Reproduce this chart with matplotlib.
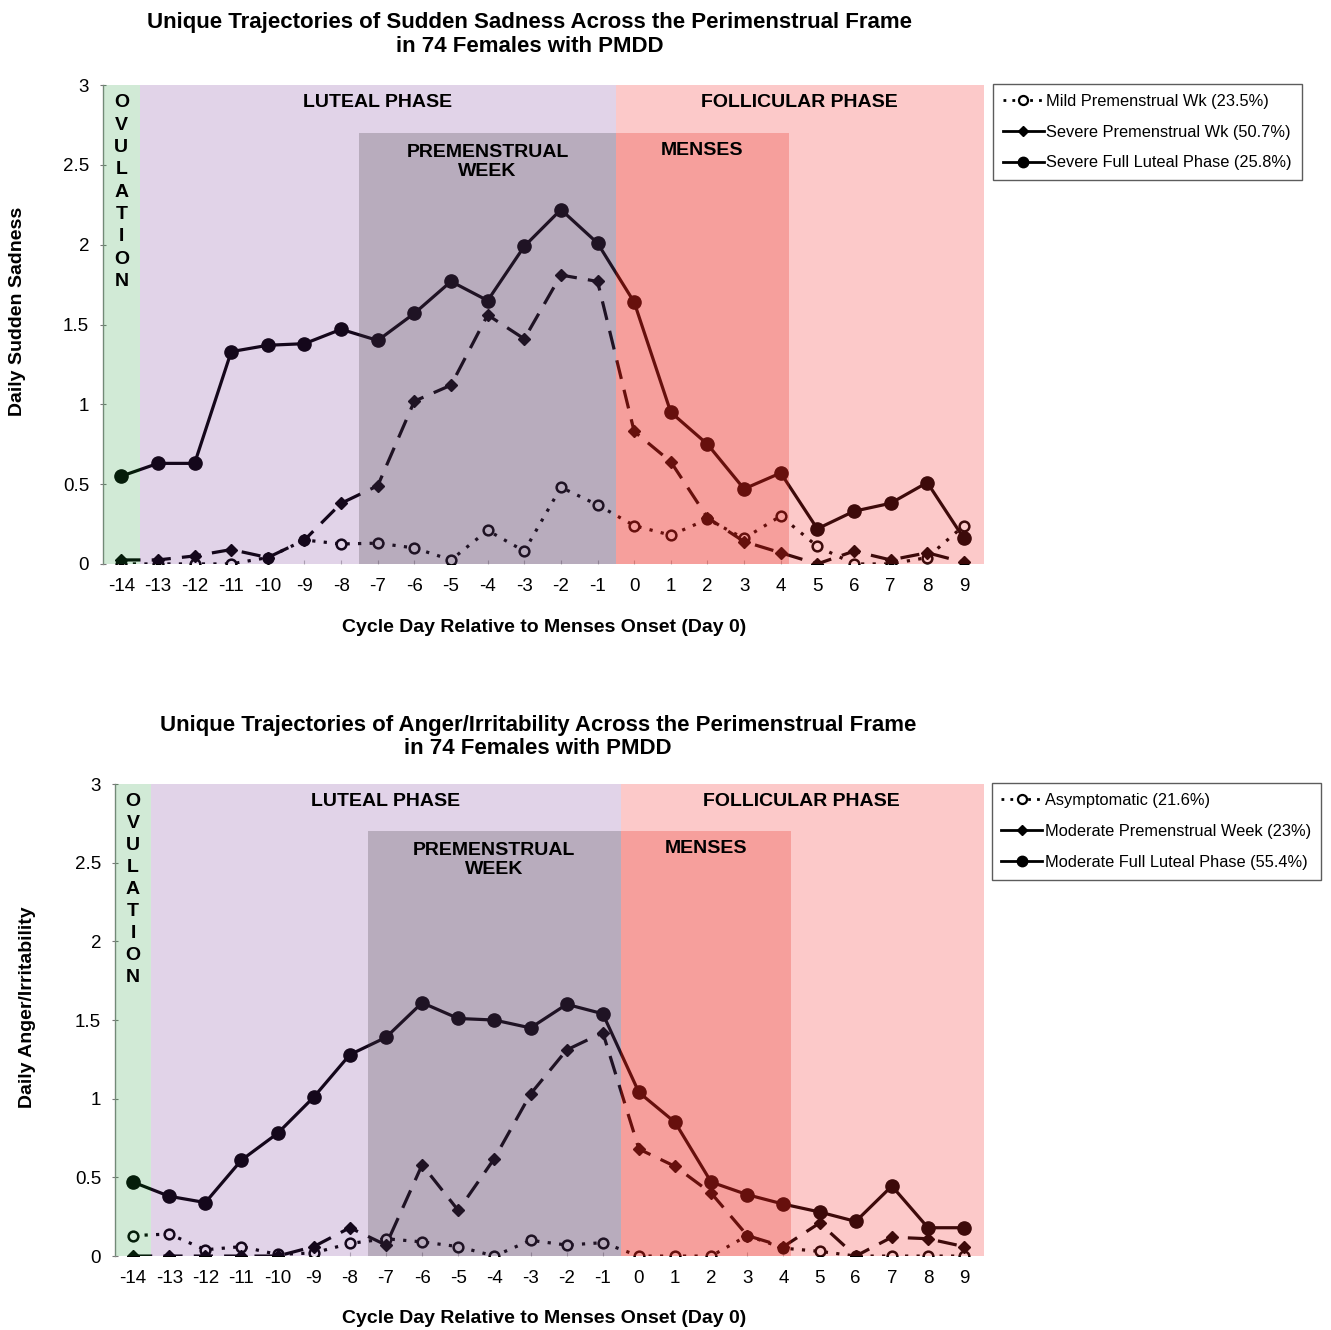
import matplotlib
matplotlib.use("Agg")
import matplotlib.pyplot as plt
from matplotlib.lines import Line2D

plt.rcParams['font.family'] = ['Liberation Sans', 'DejaVu Sans']

days = list(range(-14, 10))
day_labels = [str(d) for d in days]

# Panel 1: Sudden Sadness
sad_labels = ["Mild Premenstrual Wk (23.5%)",
              "Severe Premenstrual Wk (50.7%)",
              "Severe Full Luteal Phase (25.8%)"]
sad_mild = [0.0, 0.0, 0.0, 0.0, 0.04, 0.15, 0.125, 0.13, 0.10, 0.025, 0.21, 0.08,
            0.48, 0.37, 0.24, 0.18, 0.28, 0.16, 0.30, 0.11, 0.0, 0.0, 0.04, 0.24]
sad_severe_pm = [0.025, 0.025, 0.05, 0.09, 0.04, 0.15, 0.38, 0.49, 1.02, 1.12, 1.56, 1.41,
                 1.81, 1.77, 0.83, 0.64, 0.29, 0.14, 0.07, 0.0, 0.08, 0.025, 0.07, 0.01]
sad_full_luteal = [0.55, 0.63, 0.63, 1.33, 1.37, 1.38, 1.47, 1.40, 1.57, 1.77, 1.65, 1.99,
                   2.22, 2.01, 1.64, 0.95, 0.75, 0.47, 0.57, 0.22, 0.33, 0.38, 0.51, 0.16]

# Panel 2: Anger/Irritability
ang_labels = ["Asymptomatic (21.6%)",
              "Moderate Premenstrual Week (23%)",
              "Moderate Full Luteal Phase (55.4%)"]
ang_asym = [0.13, 0.14, 0.04, 0.06, 0.01, 0.02, 0.08, 0.11, 0.09, 0.06, 0.0, 0.10,
            0.07, 0.085, 0.0, 0.0, 0.0, 0.13, 0.05, 0.03, 0.0, 0.0, 0.0, 0.0]
ang_mod_pm = [0.0, 0.0, 0.0, 0.0, 0.0, 0.06, 0.18, 0.07, 0.58, 0.29, 0.62, 1.03,
              1.31, 1.42, 0.68, 0.57, 0.40, 0.13, 0.06, 0.21, 0.0, 0.12, 0.11, 0.06]
ang_full_luteal = [0.47, 0.38, 0.34, 0.61, 0.78, 1.01, 1.28, 1.39, 1.61, 1.51, 1.50, 1.45,
                   1.60, 1.54, 1.04, 0.85, 0.47, 0.39, 0.33, 0.28, 0.22, 0.445, 0.18, 0.18]

fig = plt.figure(figsize=(13.31, 13.30), dpi=100)


def panel(rect, title_xy, title, ylabel, ylabel_x, xlabel_y, series, labels, leg_anchor):
    ax = fig.add_axes(rect)
    mild, pm, full = series
    ax.plot(days, mild, linestyle=(0, (1, 2.6)), color='black', lw=2.3,
            marker='o', markersize=7, markerfacecolor='white',
            markeredgecolor='black', markeredgewidth=1.8, zorder=3)
    ax.plot(days, pm, linestyle=(0, (6, 3.5)), color='black', lw=2.3,
            marker='D', markersize=6.5, markerfacecolor='black',
            markeredgecolor='black', zorder=3)
    ax.plot(days, full, linestyle='-', color='black', lw=2.3,
            marker='o', markersize=9.5, markerfacecolor='black',
            markeredgecolor='black', zorder=3)

    # shaded phases drawn on top (translucent) so lines take on tint
    ax.axvspan(-14.5, -13.5, ymin=0, ymax=1, color=(0.10, 0.59, 0.20), alpha=0.2, lw=0, zorder=4)
    ax.axvspan(-13.5, -0.5, ymin=0, ymax=1, color=(0.41, 0.14, 0.55), alpha=0.2, lw=0, zorder=4)
    ax.axvspan(-7.5, -0.5, ymin=0, ymax=0.9, color=(0.25, 0.22, 0.25), alpha=0.25, lw=0, zorder=4)
    ax.axvspan(-0.5, 9.55, ymin=0, ymax=1, color=(0.97, 0.16, 0.16), alpha=0.25, lw=0, zorder=4)
    ax.axvspan(-0.5, 4.22, ymin=0, ymax=0.9, color=(0.91, 0.14, 0.09), alpha=0.25, lw=0, zorder=4)

    tk = dict(fontsize=14, fontweight='bold', ha='center', va='center', zorder=6)
    ax.text(-7, 2.89, "LUTEAL PHASE", **tk)
    ax.text(4.5, 2.89, "FOLLICULAR PHASE", **tk)
    ax.text(-4, 2.52, "PREMENSTRUAL\nWEEK", linespacing=1.15, **tk)
    ax.text(1.85, 2.59, "MENSES", **tk)
    for i, ch in enumerate("OVULATION"):
        ax.text(-14, 2.89 - i * 0.14, ch, **tk)

    ax.set_xlim(-14.5, 9.55)
    ax.set_ylim(0, 3)
    ax.set_xticks(days)
    ax.set_xticklabels(day_labels, fontsize=13.5)
    ax.set_yticks([0, 0.5, 1, 1.5, 2, 2.5, 3])
    ax.set_yticklabels(['0', '0.5', '1', '1.5', '2', '2.5', '3'], fontsize=13.5)
    ax.tick_params(axis='x', length=3, direction='in', color='#bbbbbb', pad=10)
    ax.tick_params(axis='y', length=4, direction='inout', color='#777777', pad=8)
    for s in ['top', 'right', 'bottom']:
        ax.spines[s].set_visible(False)
    ax.spines['left'].set_color('#888888')
    ax.spines['left'].set_linewidth(1.0)

    fig.text(title_xy[0], title_xy[1], title, fontsize=16, fontweight='bold',
             ha='center', va='center', linespacing=1.15)
    fig.text(ylabel_x, rect[1] + rect[3] / 2 + 0.01, ylabel, rotation=90, fontsize=14,
             fontweight='bold', ha='center', va='center')
    fig.text(0.409, xlabel_y, "Cycle Day Relative to Menses Onset (Day 0)", fontsize=14,
             fontweight='bold', ha='center', va='center')

    handles = [
        Line2D([], [], linestyle=(0, (1, 2.2)), color='black', lw=2.0, marker='o',
               markersize=6.5, markerfacecolor='white', markeredgewidth=1.6),
        Line2D([], [], linestyle='-', color='black', lw=2.0, marker='D', markersize=5),
        Line2D([], [], linestyle='-', color='black', lw=2.0, marker='o', markersize=7.5),
    ]
    leg = ax.legend(handles, labels, loc='upper left', bbox_to_anchor=leg_anchor,
                    bbox_transform=fig.transFigure, fontsize=11.8, frameon=True,
                    fancybox=False, edgecolor='#333333', handlelength=2.5,
                    handletextpad=0.15, labelspacing=0.97, borderpad=0.6,
                    borderaxespad=0)
    leg.get_frame().set_linewidth(1.0)
    return ax


panel([0.0774, 0.576, 0.6619, 0.360], (0.398, 0.974),
      "Unique Trajectories of Sudden Sadness Across the Perimenstrual Frame\nin 74 Females with PMDD",
      "Daily Sudden Sadness", 0.0135, 0.528,
      (sad_mild, sad_severe_pm, sad_full_luteal), sad_labels, (0.746, 0.937))

panel([0.0864, 0.0556, 0.6529, 0.3549], (0.404, 0.446),
      "Unique Trajectories of Anger/Irritability Across the Perimenstrual Frame\nin 74 Females with PMDD",
      "Daily Anger/Irritability", 0.021, 0.009,
      (ang_asym, ang_mod_pm, ang_full_luteal), ang_labels, (0.745, 0.411))

fig.savefig("out.png", dpi=100, facecolor='white')
